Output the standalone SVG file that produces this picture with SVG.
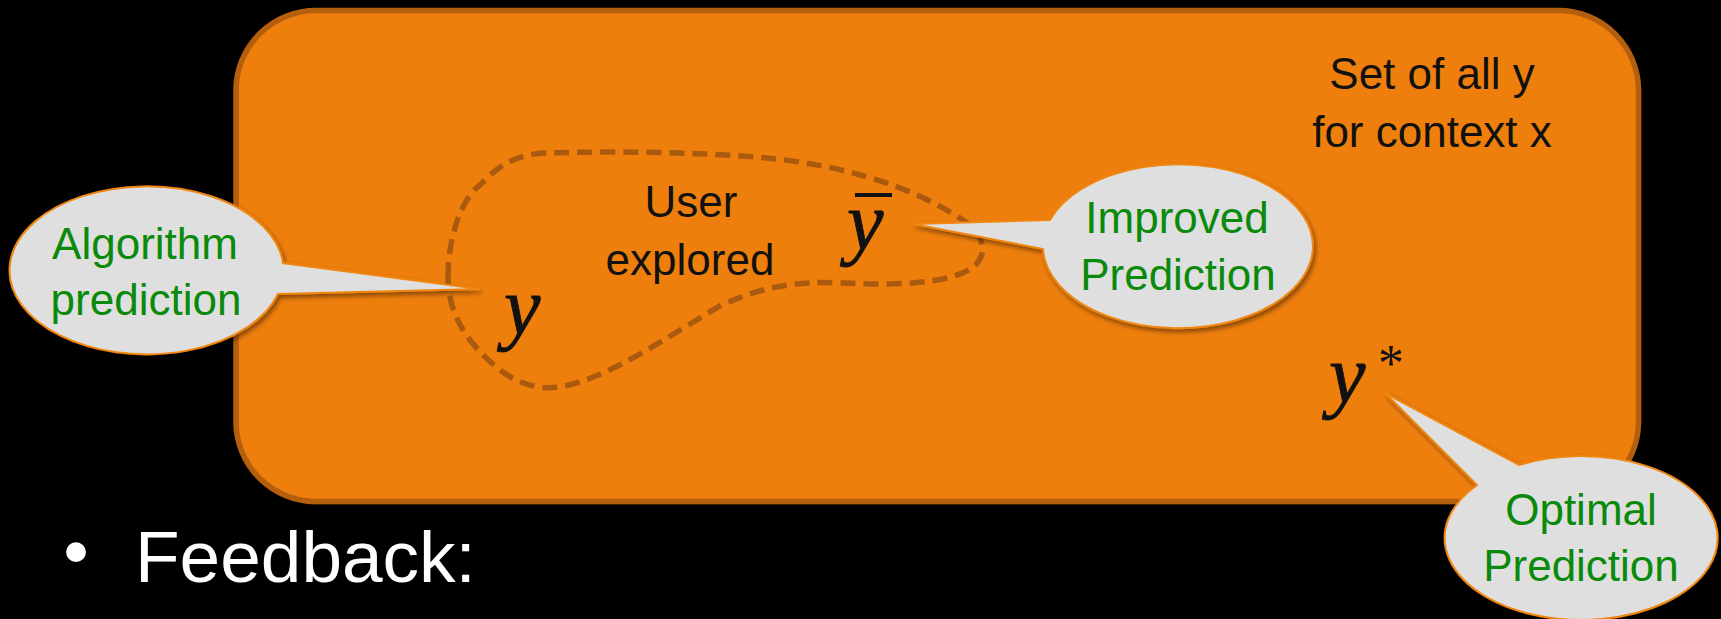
<svg xmlns="http://www.w3.org/2000/svg" width="1721" height="619" viewBox="0 0 1721 619">
<defs>
<filter id="sh" x="-20%" y="-20%" width="140%" height="150%">
<feDropShadow dx="2" dy="3" stdDeviation="2.5" flood-color="#000" flood-opacity="0.45"/>
</filter>
<filter id="boxsh" x="-5%" y="-5%" width="110%" height="115%">
<feDropShadow dx="0" dy="3" stdDeviation="2" flood-color="#000" flood-opacity="0.5"/>
</filter>
</defs>
<style>
.box{fill:#EF7F0A;stroke:#B35F0A;stroke-width:5.5}
.blob{fill:none;stroke:#A95A0E;stroke-width:5.5;stroke-dasharray:15 8}
.bubble{fill:#DFDFDF;stroke:#F0860F;stroke-width:2;filter:url(#sh)}
.lbl{font-family:"Liberation Sans",Arial,sans-serif;font-size:44px;fill:#111;text-anchor:middle}
.grn{font-family:"Liberation Sans",Arial,sans-serif;font-size:44px;fill:#0A8A0A;text-anchor:middle}
.math{font-family:"Liberation Serif","Times New Roman",serif;font-style:italic;font-size:82px;fill:#111;stroke:#111;stroke-width:0.8}
.ast{font-family:"Liberation Serif","Times New Roman",serif;font-size:52px;fill:#111}
.big{font-family:"Liberation Sans",Arial,sans-serif;font-size:73px;fill:#fff}
</style>
<rect width="1721" height="619" fill="#000"/>
<g id="set-all-y">
<rect class="box" x="236" y="10.5" width="1402.5" height="491" rx="80" ry="80" filter="url(#boxsh)"/>
<text class="lbl" x="1432" y="89">Set of all y</text>
<text class="lbl" x="1432" y="147">for context x</text>
</g>
<g id="user-explored">
<path class="blob" d="M 448,277 C 448,240 460,200 480,185 C 495,170 510,155 545,153 C 620,151 700,152 767,158 C 840,165 910,185 963,220 C 990,238 990,265 957,275 C 930,285 880,285 843,283 C 800,281 765,285 720,306 C 670,335 610,378 560,387 C 520,393 490,365 470,340 C 455,320 448,300 448,277 Z"/>
<text class="lbl" x="691" y="217">User</text>
<text class="lbl" x="690" y="275">explored</text>
</g>
<g id="y-pred">
<text class="math" x="504" y="334">y</text>
</g>
<g id="y-bar">
<rect x="855" y="193" width="37" height="4" fill="#111"/>
<text class="math" x="847" y="249">y</text>
</g>
<g id="y-star">
<text class="math" x="1329" y="402">y</text>
<text class="ast" x="1378" y="381">*</text>
</g>
<g id="algorithm-prediction">
<path class="bubble" d="M 283,263 A 137 84 0 1 0 278,294 L 480,289 Z"/>
<text class="grn" x="145" y="259">Algorithm</text>
<text class="grn" x="146" y="315">prediction</text>
</g>
<g id="improved-prediction">
<path class="bubble" d="M 1050,220 A 135 82 0 1 1 1043,249 L 913,224 Z"/>
<text class="grn" x="1177" y="233">Improved</text>
<text class="grn" x="1178" y="290">Prediction</text>
</g>
<g id="optimal-prediction">
<path class="bubble" d="M 1519,465 A 136.5 82 0 1 1 1477,485 L 1385,393 Z"/>
<text class="grn" x="1581" y="525">Optimal</text>
<text class="grn" x="1581" y="581">Prediction</text>
</g>
<g id="connectors"></g>
<g id="feedback">
<text class="big" x="76" y="576" text-anchor="middle">•</text>
<text class="big" x="135" y="582">Feedback:</text>
</g>
</svg>
